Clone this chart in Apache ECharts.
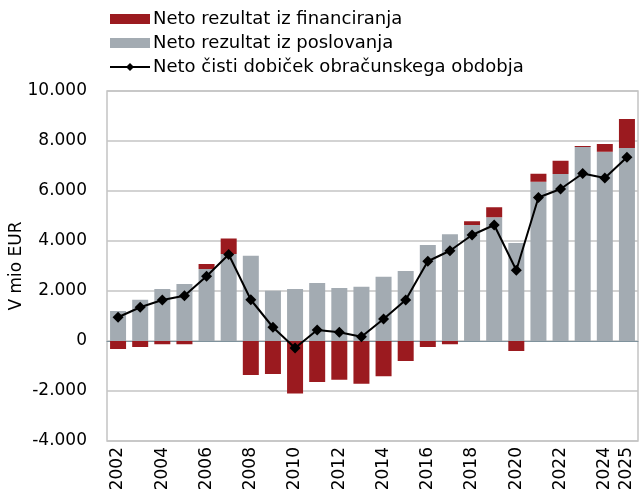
<!DOCTYPE html>
<html>
<head>
<meta charset="utf-8">
<script src="https://cdn.jsdelivr.net/npm/echarts@6/dist/echarts.min.js"></script>
<style>
  html, body { margin: 0; padding: 0; background: #fff; }
  #chart { width: 640px; height: 494px; }
</style>
</head>
<body>
<div id="chart"></div>
<script>
// leta
const years = ['2002','2003','2004','2005','2006','2007','2008','2009','2010','2011','2012','2013',
  '2014','2015','2016','2017','2018','2019','2020','2021','2022','2023','2024','2025'];
// neto rezultat iz poslovanja (mio EUR)
const poslovanje = [1200, 1650, 2080, 2280, 2880, 3480, 3410, 2010, 2080, 2320, 2120, 2170,
  2570, 2800, 3840, 4270, 4640, 4950, 3920, 6370, 6680, 7760, 7570, 7720];
// neto rezultat iz financiranja (mio EUR)
const financiranje = [-320, -240, -130, -130, 200, 620, -1360, -1320, -2100, -1640, -1550, -1710,
  -1410, -800, -240, -130, 150, 400, -400, 320, 530, 40, 310, 1160];
// neto cisti dobicek
const dobicek = [950, 1350, 1640, 1810, 2590, 3460, 1650, 550, -280, 440, 350, 170,
  880, 1640, 3190, 3610, 4240, 4640, 2830, 5740, 6080, 6700, 6520, 7350];
// prikazane oznake na osi x
const shownYears = ['2002','2004','2006','2008','2010','2012','2014','2016','2018','2020','2022','2024','2025'];

const FONT = 'DejaVu Sans';
const chart = echarts.init(document.getElementById('chart'), null, { renderer: 'canvas' });

const option = {
  animation: false,
  textStyle: { fontFamily: FONT },
  legend: {
    orient: 'vertical',
    left: 104,
    top: 5,
    itemWidth: 40,
    itemHeight: 10,
    itemGap: 6,
    textStyle: { fontSize: 18, color: '#000', fontFamily: FONT, padding: [0, 0, 0, -2] },
    data: [
      { name: 'Neto rezultat iz financiranja', icon: 'rect' },
      { name: 'Neto rezultat iz poslovanja', icon: 'rect' },
      { name: 'Neto čisti dobiček obračunskega obdobja' }
    ]
  },
  grid: {
    show: true,
    left: 107,
    right: 2,
    top: 91,
    bottom: 53,
    borderColor: '#c4c4c4',
    borderWidth: 1.5,
    containLabel: false,
    outerBoundsMode: 'none'
  },
  xAxis: {
    type: 'category',
    data: years,
    boundaryGap: true,
    axisLine: { show: true, onZero: true, lineStyle: { color: '#7f929c', width: 1.2 } },
    axisTick: { show: false },
    axisLabel: {
      rotate: 90,
      fontSize: 17,
      color: '#000',
      fontFamily: FONT,
      margin: 6,
      interval: (i, v) => shownYears.includes(v)
    }
  },
  yAxis: {
    type: 'value',
    min: -4000,
    max: 10000,
    interval: 2000,
    name: 'V mio EUR',
    nameLocation: 'middle',
    nameGap: 82,
    nameMoveOverlap: false,
    nameTextStyle: { fontSize: 17, color: '#000', fontFamily: FONT },
    axisLine: { show: false },
    axisTick: { show: false },
    axisLabel: {
      fontSize: 17,
      color: '#000',
      margin: 20,
      fontFamily: FONT,
      formatter: v => String(v).replace(/\B(?=(\d{3})+(?!\d))/g, '.')
    },
    splitLine: { lineStyle: { color: '#c4c4c4', width: 1.5 } }
  },
  series: [
    {
      name: 'Neto rezultat iz poslovanja',
      type: 'bar',
      stack: 'total',
      data: poslovanje,
      barWidth: 16,
      itemStyle: { color: '#a3abb2' }
    },
    {
      name: 'Neto rezultat iz financiranja',
      type: 'bar',
      stack: 'total',
      data: financiranje,
      barWidth: 16,
      itemStyle: { color: '#9b1a1f' }
    },
    {
      name: 'Neto čisti dobiček obračunskega obdobja',
      type: 'line',
      data: dobicek,
      symbol: 'diamond',
      symbolSize: 11,
      lineStyle: { color: '#000', width: 2 },
      itemStyle: { color: '#000' },
      z: 5
    }
  ]
};
chart.setOption(option);
</script>
</body>
</html>
